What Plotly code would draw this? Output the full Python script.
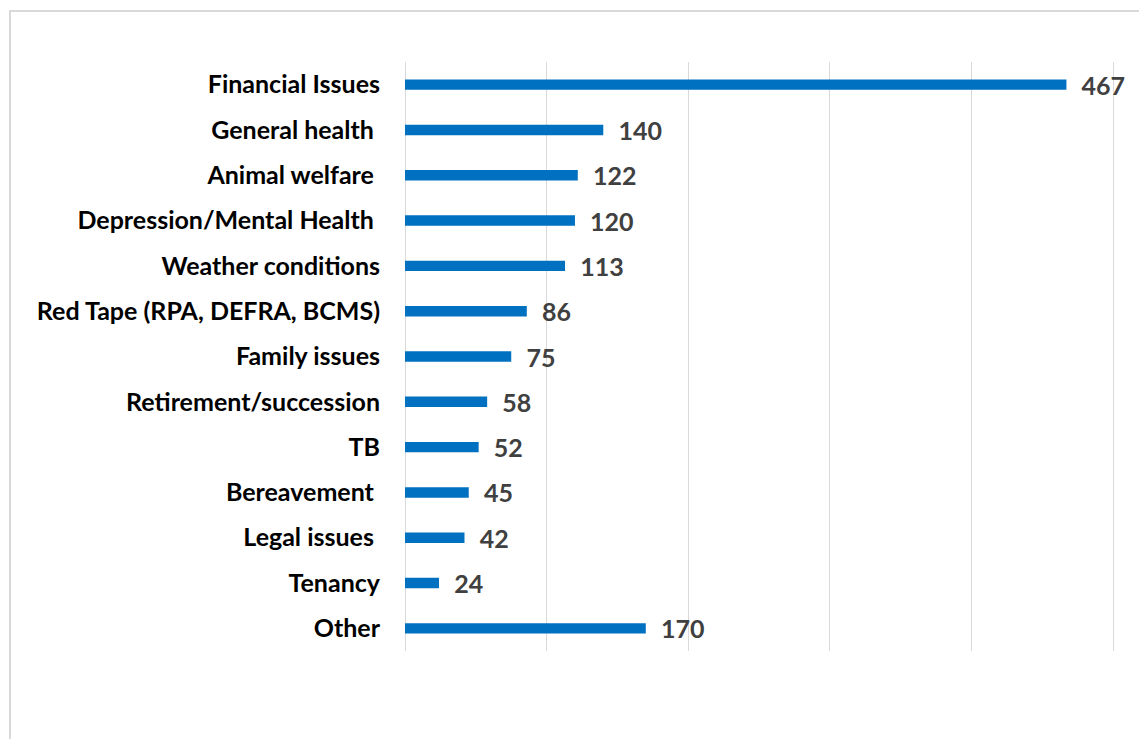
import plotly.graph_objects as go

categories = ["Financial Issues", "General health\u00a0", "Animal welfare\u00a0",
              "Depression/Mental Health\u00a0", "Weather conditions",
              "Red Tape (RPA, DEFRA, BCMS)", "Family issues", "Retirement/succession",
              "TB", "Bereavement\u00a0", "Legal issues\u00a0", "Tenancy", "Other"]
values = [467, 140, 122, 120, 113, 86, 75, 58, 52, 45, 42, 24, 170]
x_ticks = [0, 100, 200, 300, 400, 500]
x_max = 502

# page body has an 8px margin, so work in page pixels minus 8
OFF = 8
W, H = 1147 - OFF, 739 - OFF
L, T, B = 405 - OFF, 62 - OFF, 651 - OFF
R = L + round(708 * x_max / 500)

fig = go.Figure(go.Bar(
    y=categories, x=values, orientation="h",
    marker=dict(color="#0070C0", line=dict(width=0)),
    width=0.23,
    text=[f"\u00a0\u00a0{v}" for v in values],
    textposition="outside", cliponaxis=False, constraintext="none",
    textfont=dict(family="Lato", size=25, color="#404040", weight="bold"),
    hoverinfo="skip",
))

def px_x(px):
    return (px - OFF - L) / (R - L)

def px_y(py):
    return (B - (py - OFF)) / (B - T)

fig.add_shape(type="rect", xref="paper", yref="paper",
              x0=px_x(10), x1=px_x(1170), y0=px_y(780), y1=px_y(11),
              line=dict(color="#d9d9d9", width=2), fillcolor="rgba(0,0,0,0)", layer="below")

fig.update_layout(
    width=W, height=H,
    margin=dict(l=L, r=W - R, t=T, b=H - B, pad=0),
    paper_bgcolor="white", plot_bgcolor="white",
    showlegend=False,
    xaxis=dict(range=[0, x_max], tickvals=x_ticks, showticklabels=False,
               showgrid=True, gridcolor="#d9d9d9", gridwidth=1,
               zeroline=True, zerolinecolor="#d9d9d9", zerolinewidth=1,
               showline=False, fixedrange=True),
    yaxis=dict(autorange="reversed", categoryorder="array", categoryarray=categories,
               tickfont=dict(family="Lato", size=25, color="#000000", weight="bold"),
               ticks="", ticklabelstandoff=24, showline=False, showgrid=False,
               fixedrange=True),
)

fig.write_html("out.html")
